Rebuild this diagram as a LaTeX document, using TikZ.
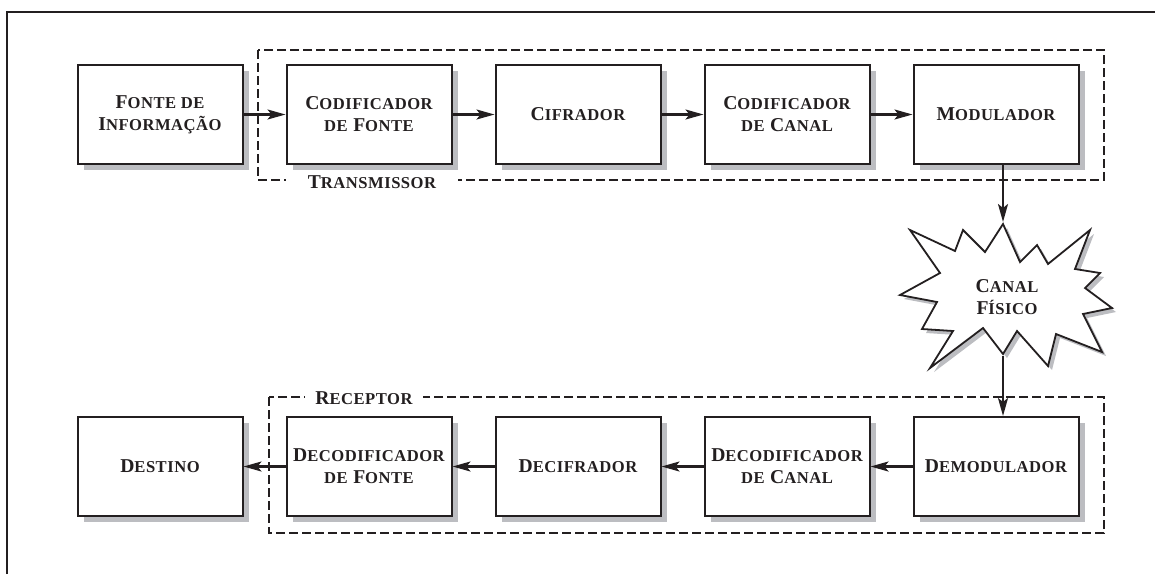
\documentclass[tikz,border=0pt]{standalone}
\usepackage{fontspec}
\setmainfont{Liberation Serif}[LetterSpace=3]
\usetikzlibrary{arrows.meta, shadows}
\definecolor{ink}{HTML}{231F20}
\definecolor{shade}{RGB}{188,189,193}
\newcommand\sm[1]{{\fontsize{8.3pt}{11pt}\selectfont #1}}
\tikzset{
    block/.style={draw=ink, line width=1pt, fill=white, rectangle, minimum width=82.5pt, minimum height=49.5pt, align=center, text=ink, font=\bfseries\fontsize{9.8pt}{11pt}\selectfont, drop shadow={shadow xshift=3pt, shadow yshift=-3pt, fill=shade, opacity=1}},
    arrow/.style={-{Stealth[length=9pt, width=5pt, inset=2pt]}, line width=1.1pt, draw=ink},
    group/.style={draw=ink, line width=0.75pt, dash pattern=on 4.5pt off 2pt},
    grouplabel/.style={fill=white, inner ysep=1pt, text=ink, font=\bfseries\fontsize{9.8pt}{11pt}\selectfont}
}

\begin{document}
\begin{tikzpicture}[x=0.5pt, y=-0.5pt, node distance=104.5pt]
\useasboundingbox (0,0) rectangle (1155,574);
\draw[ink, line width=0.8pt] (7,574) -- (7,12) -- (1155,12);

% grupos
\draw[group] (258,50) rectangle (1104,180);
\draw[group] (269,397) rectangle (1104,533);
\node[grouplabel, inner xsep=11pt] (tlabel) at (372,182) {T\sm{RANSMISSOR}};
\node[grouplabel, inner xsep=5pt] (rlabel) at (364,398) {R\sm{ECEPTOR}};

% transmissor
\node[block] (fonte) at (160,114.5) {F\sm{ONTE DE}\\I\sm{NFORMAÇÃO}};
\node[block, right of=fonte] (codf) {C\sm{ODIFICADOR}\\\sm{DE} F\sm{ONTE}};
\node[block, right of=codf] (cif) {C\sm{IFRADOR}};
\node[block, right of=cif] (codc) {C\sm{ODIFICADOR}\\\sm{DE} C\sm{ANAL}};
\node[block, right of=codc] (mod) {M\sm{ODULADOR}};

% canal
\begin{scope}[shift={(1003,297)}]
\draw[ink, line width=0.9pt, fill=white, drop shadow={shadow xshift=2pt, shadow yshift=-2pt, fill=shade, opacity=1}]
    (0,-73) -- (17,-35) -- (34,-52) -- (45,-33) -- (87,-67) -- (72,-28) -- (97,-24) -- (82,-9)
    -- (109,11) -- (80,17) -- (99,55) -- (53,37) -- (45,69) -- (14,34) -- (0,57) -- (-20,31)
    -- (-73,71) -- (-50,34) -- (-81,32) -- (-66,5) -- (-103,-2) -- (-63,-24) -- (-93,-67)
    -- (-48,-46) -- (-40,-67) -- (-18,-45) -- cycle;
\coordinate (canaltop) at (0,-75);
\coordinate (canalbot) at (0,59);
\end{scope}
\node[align=center, text=ink, font=\bfseries\fontsize{9.8pt}{11pt}\selectfont] (canal) at (1007,297) {C\sm{ANAL}\\F\sm{ÍSICO}};

% receptor
\node[block, node distance=176pt, below of=mod] (dem) {D\sm{EMODULADOR}};
\node[block, left of=dem] (decc) {D\sm{ECODIFICADOR}\\\sm{DE} C\sm{ANAL}};
\node[block, left of=decc] (decif) {D\sm{ECIFRADOR}};
\node[block, left of=decif] (decf) {D\sm{ECODIFICADOR}\\\sm{DE} F\sm{ONTE}};
\node[block, left of=decf] (dest) {D\sm{ESTINO}};

\draw[arrow] (fonte) -- (codf);
\draw[arrow] (codf) -- (cif);
\draw[arrow] (cif) -- (codc);
\draw[arrow] (codc) -- (mod);
\draw[arrow] (mod.south -| canaltop) -- (canaltop);
\draw[arrow] (canalbot) -- (canalbot |- dem.north);
\draw[arrow] (dem) -- (decc);
\draw[arrow] (decc) -- (decif);
\draw[arrow] (decif) -- (decf);
\draw[arrow] (decf) -- (dest);
\end{tikzpicture}
\end{document}
